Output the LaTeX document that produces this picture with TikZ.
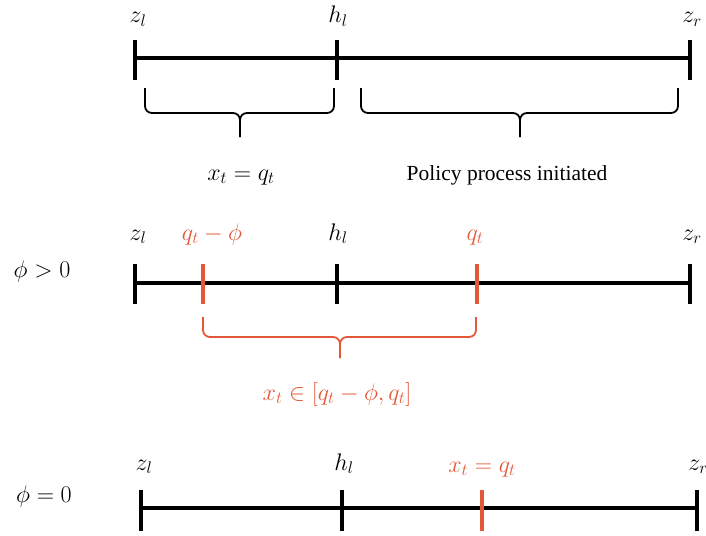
\RequirePackage{fix-cm}
\documentclass[tikz,border=0pt]{standalone}
\usepackage{fontspec}
\setmainfont{Liberation Serif}
\definecolor{accent}{RGB}{226,88,56}
\tikzset{
  axisline/.style={line width=3.2pt},
  tickmark/.style={line width=3.2pt},
  bracket/.style={line width=1.8pt, rounded corners=7pt},
  lbl/.style={anchor=base, inner sep=0pt, font=\fontsize{24}{28}\selectfont},
  txt/.style={anchor=base, inner sep=0pt, font=\fontsize{21.5}{26}\selectfont},
}

\begin{document}
\begin{tikzpicture}[x=1pt, y=-1pt]
  \useasboundingbox (0,0) rectangle (706,535);

  % top line: split at h_l
  \draw[axisline] (135,58) -- (690,58);
  \foreach \x in {135,337,690} \draw[tickmark] (\x,40) -- (\x,80);
  \node[lbl] (zl1) at (138,23) {$z_l$};
  \node[lbl] (hl1) at (338,23) {$h_l$};
  \node[lbl] (zr1) at (692,23) {$z_r$};

  \draw[bracket] (145,88) |- (240,113) -- (240,137);
  \draw[bracket] (334,88) |- (240,113) -- (240,137);
  \draw[bracket] (361,88) |- (520,113) -- (520,137);
  \draw[bracket] (678,88) |- (520,113) -- (520,137);
  \node[lbl] (lower) at (241,180) {$x_t = q_t$};
  \node[txt] (upper) at (507,180) {Policy process initiated};

  % phi > 0
  \node[lbl] (pos) at (42,277) {$\phi > 0$};
  \draw[axisline] (135,283) -- (690,283);
  \foreach \x in {135,337,690} \draw[tickmark] (\x,264) -- (\x,304);
  \foreach \x in {203,477} \draw[tickmark, accent] (\x,264) -- (\x,304);
  \node[lbl] (zl2) at (138,240) {$z_l$};
  \node[lbl, text=accent] (qlo) at (212,240) {$q_t - \phi$};
  \node[lbl] (hl2) at (338,240) {$h_l$};
  \node[lbl, text=accent] (qhi) at (475,240) {$q_t$};
  \node[lbl] (zr2) at (692,240) {$z_r$};

  \draw[bracket, accent] (203,317) |- (340,337) -- (340,358);
  \draw[bracket, accent] (476,317) |- (340,337) -- (340,358);
  \node[lbl, text=accent] (range) at (337,400) {$x_t \in [q_t - \phi, q_t]$};

  % phi = 0
  \node[lbl] (zero) at (44,502) {$\phi = 0$};
  \draw[axisline] (141,508) -- (697,508);
  \foreach \x in {141,342,697} \draw[tickmark] (\x,490) -- (\x,531);
  \draw[tickmark, accent] (482,490) -- (482,531);
  \node[lbl] (zl3) at (144,470) {$z_l$};
  \node[lbl] (hl3) at (344,470) {$h_l$};
  \node[lbl, text=accent] (eq) at (482,472) {$x_t = q_t$};
  \node[lbl] (zr3) at (698,470) {$z_r$};
\end{tikzpicture}
\end{document}
